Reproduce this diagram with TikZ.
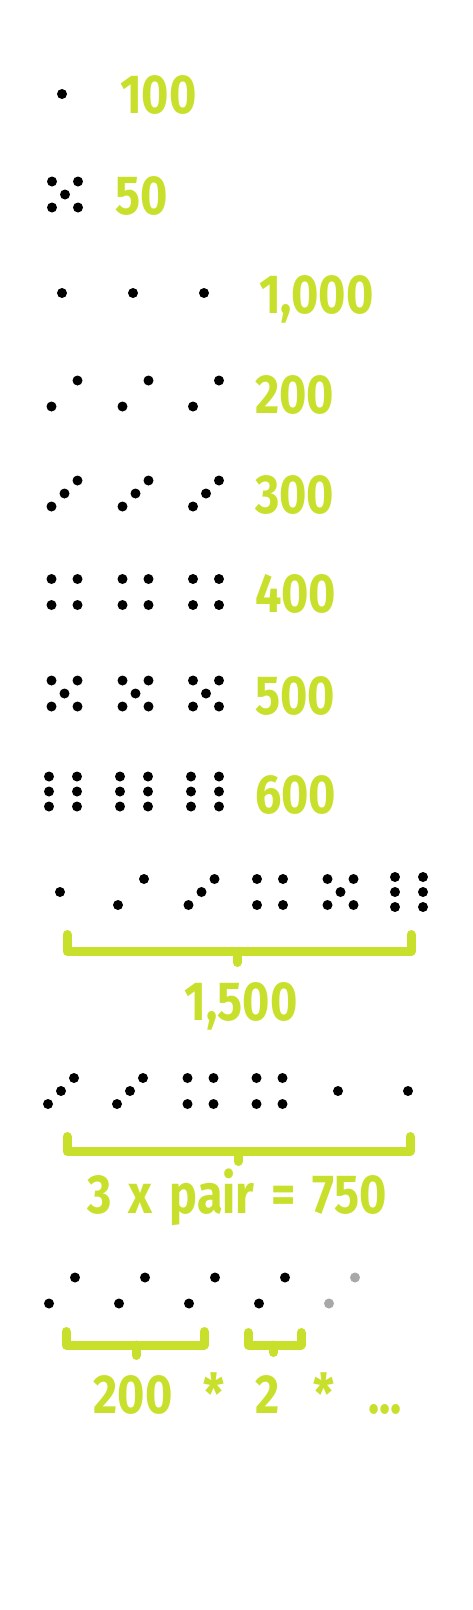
\documentclass[tikz,border=0pt]{standalone}
\usepackage{fontspec}
\setmainfont[FakeStretch=0.85]{Fira Sans}
\usepackage{tikz}
\definecolor{lime}{HTML}{C8E02C}
\definecolor{ghost}{HTML}{A8A8A8}
\tikzstyle{score} = [font=\bfseries\fontsize{55}{60}\selectfont, text=lime,
    inner sep=0pt, anchor=base west]
\tikzstyle{brace} = [draw=lime, line width=9pt, line cap=round, line join=round]

\begin{document}
\begin{tikzpicture}[
x=1pt, y=-1pt,
pip/.style = {radius=5pt},
face1/.pic = {\fill[pip] (0,0) circle;},
face2/.pic = {\fill[pip] (-13,13) circle (5pt) (13,-13) circle (5pt);},
face3/.pic = {\fill[pip] (-13,13) circle (5pt) (0,0) circle (5pt) (13,-13) circle (5pt);},
face4/.pic = {\fill[pip] (-13,-13) circle (5pt) (13,-13) circle (5pt)
                         (-13,13) circle (5pt) (13,13) circle (5pt);},
face5/.pic = {\fill[pip] (-13,-13) circle (5pt) (13,-13) circle (5pt) (0,0) circle (5pt)
                         (-13,13) circle (5pt) (13,13) circle (5pt);},
face6/.pic = {\fill[pip] (-14,-15) circle (5pt) (14,-15) circle (5pt)
                         (-14,0) circle (5pt) (14,0) circle (5pt)
                         (-14,15) circle (5pt) (14,15) circle (5pt);},
                        ]
\fill[white] (0,0) rectangle (472,1610);
\useasboundingbox (0,0) rectangle (472,1610);

% single one
\pic at (62,94) {face1};
\node[score] (t100) at (120,113) {100};
% single five
\pic at (65,194.5) {face5};
\node[score] (t50) at (115,214) {50};
% three of a kind
\pic at (62,293) {face1};
\pic at (133,293) {face1};
\pic at (204,293) {face1};
\node[score] (t1000) at (259,313) {1,000};
\pic at (64.5,393.5) {face2};
\pic at (135.5,393.5) {face2};
\pic at (206,393.5) {face2};
\node[score] (t200) at (255,413) {200};
\pic at (64.5,493.5) {face3};
\pic at (135.5,493.5) {face3};
\pic at (206,493.5) {face3};
\node[score] (t300) at (255,513) {300};
\pic at (64.5,592) {face4};
\pic at (135.5,592) {face4};
\pic at (206,592) {face4};
\node[score] (t400) at (255,612) {400};
\pic at (64.5,693.5) {face5};
\pic at (135.5,693.5) {face5};
\pic at (206,693.5) {face5};
\node[score] (t500) at (255,714) {500};
\pic at (63,791.5) {face6};
\pic at (134,791.5) {face6};
\pic at (205,791.5) {face6};
\node[score] (t600) at (255,813) {600};

% straight
\pic at (60,892) {face1};
\pic at (131,892) {face2};
\pic at (201.5,892) {face3};
\pic at (270,892) {face4};
\pic at (340.5,892) {face5};
\pic at (409,892) {face6};
\draw[brace] (67,934.5) -- (67,951.5) -- (411,951.5) -- (411,934.5);
\draw[brace] (237,951.5) -- (237,962.5);
\node[score, anchor=base] (tstraight) at (241,1020) {1,500};

% three pairs
\pic at (61,1091) {face3};
\pic at (130,1091) {face3};
\pic at (200.5,1091) {face4};
\pic at (269.5,1091) {face4};
\pic at (338,1091) {face1};
\pic at (408,1091) {face1};
\draw[brace] (67,1136.5) -- (67,1151.5) -- (410,1151.5) -- (410,1136.5);
\draw[brace] (238,1151.5) -- (238,1161.5);
\node[score, anchor=base] (tpairs) at (237,1213)
    {3\hspace{17pt}x\hspace{17pt}pair\hspace{17pt}=\hspace{17pt}750};

% four or more
\pic at (62,1290.5) {face2};
\pic at (132,1290.5) {face2};
\pic at (202,1290.5) {face2};
\pic at (272,1290.5) {face2};
\pic[color=ghost] at (342,1290.5) {face2};
\draw[brace] (66,1331.5) -- (66,1345) -- (204,1345) -- (204,1331.5);
\draw[brace] (136,1345) -- (136,1355.5);
\draw[brace] (248,1332.5) -- (248,1345) -- (301,1345) -- (301,1332.5);
\draw[brace] (273.5,1345) -- (273.5,1352.5);
\node[score, anchor=base] (tbase) at (133,1413) {200};
\node[score, anchor=base] (tmul1) at (214,1413) {*};
\node[score, anchor=base] (ttwo) at (268,1413) {2};
\node[score, anchor=base] (tmul2) at (324,1413) {*};
\node[score, anchor=base] (tmore) at (385,1413) {...};
\end{tikzpicture}
\end{document}
